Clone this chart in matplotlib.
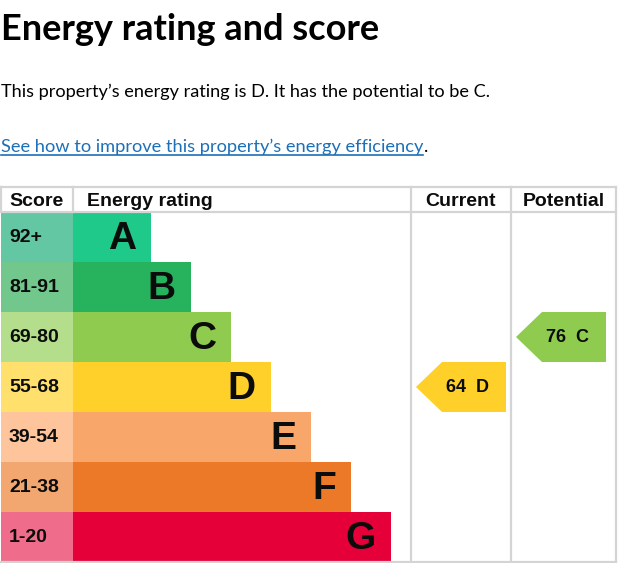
import matplotlib
matplotlib.use('Agg')
import matplotlib.pyplot as plt
from matplotlib.patches import Polygon

# ratings table data
bands = ['A', 'B', 'C', 'D', 'E', 'F', 'G']
score_ranges = ['92+', '81-91', '69-80', '55-68', '39-54', '21-38', '1-20']
band_lows = [92, 81, 69, 55, 39, 21, 1]
bar_colors = ['#1fc98a', '#27b35e', '#8fcb4f', '#ffcf2a', '#f9a66b', '#ec7928', '#e5003a']
score_colors = ['#63c7a3', '#72c78d', '#b5de8c', '#ffe06c', '#fec49c', '#f2a771', '#ef6d8a']
current_score = 64
potential_score = 76

title = 'Energy rating and score'
summary = 'This property\u2019s energy rating is D. It has the potential to be C.'
link_text = 'See how to improve this property\u2019s energy efficiency'

# layout in pixels (figure is 618x563 @ 100dpi)
W, H = 618, 563
top, head_bot, row_h = 187, 212, 50
col_score, col_cur, col_pot, right = 73, 411, 511, 616
grid = '#d4d4d4'
body_font = ['Lato', 'DejaVu Sans']
table_font = ['Liberation Sans', 'DejaVu Sans']


def band_of(score):
    for i, low in enumerate(band_lows):
        if score >= low:
            return i
    return len(bands) - 1


fig = plt.figure(figsize=(W / 100, H / 100), dpi=100)
ax = fig.add_axes([0, 0, 1, 1])
ax.set_xlim(0, W)
ax.set_ylim(H, 0)
ax.axis('off')

# heading and paragraphs
ax.text(1, 40, title, family=body_font, weight='bold', fontsize=26, va='baseline')
ax.text(1, 97, summary, family=body_font, fontsize=13.1, va='baseline')
lnk = ax.text(1, 152, link_text, family=body_font, fontsize=13.15, va='baseline', color='#1d70b8')
fig.canvas.draw()
bb = lnk.get_window_extent().transformed(ax.transData.inverted())
x_end = max(bb.x0, bb.x1)
ax.plot([1, x_end], [155, 155], color='#1d70b8', lw=1.2)
ax.text(x_end + 0.5, 152, '.', family=body_font, fontsize=13.15, va='baseline')

# band bars and score cells
centers = [head_bot + row_h * (i + 0.5) for i in range(len(bands))]
lengths = [78 + 40 * i for i in range(len(bands))]
ax.barh(centers, [col_score - 1] * len(bands), left=1, height=row_h, color=score_colors)
ax.barh(centers, lengths, left=col_score, height=row_h, color=bar_colors)
for i, b in enumerate(bands):
    ax.text(9, centers[i] + 1, score_ranges[i], family=table_font, weight='bold',
            fontsize=14, va='center', ha='left', color='#0b0c0c')
    ax.text(col_score + lengths[i] - 15, centers[i] + 2, b, family=table_font, weight='bold',
            fontsize=28, va='center', ha='right', color='#0b0c0c')

# grid lines
lw = 1.6
ax.plot([1, right], [top, top], color=grid, lw=lw)
ax.plot([1, right], [head_bot, head_bot], color=grid, lw=lw)
ax.plot([1, right], [H - 1, H - 1], color=grid, lw=lw)
ax.plot([1, 1], [top, head_bot], color=grid, lw=lw)
ax.plot([col_score, col_score], [top, head_bot], color=grid, lw=lw)
for x in (col_cur, col_pot, right):
    ax.plot([x, x], [top, H], color=grid, lw=lw)

# header
hdr = dict(family=table_font, weight='bold', fontsize=14, va='center', color='#0b0c0c')
ax.text(9, 201, 'Score', ha='left', **hdr)
ax.text(87, 201, 'Energy rating', ha='left', **hdr)
ax.text((col_cur + col_pot) / 2, 201, 'Current', ha='center', **hdr)
ax.text((col_pot + right) / 2, 201, 'Potential', ha='center', **hdr)


def arrow(col_left, score):
    i = band_of(score)
    y0, y1 = head_bot + row_h * i, head_bot + row_h * (i + 1)
    x_tip, x_body, x_end = col_left + 5, col_left + 31, col_left + 95
    pts = [(x_tip, (y0 + y1) / 2), (x_body, y0), (x_end, y0), (x_end, y1), (x_body, y1)]
    ax.add_patch(Polygon(pts, closed=True, color=bar_colors[i], lw=0))
    ax.text(x_body + 26, (y0 + y1) / 2 + 1, f'{score}  {bands[i]}',
            family=table_font, weight='bold', fontsize=13, va='center', ha='center',
            color='#0b0c0c')


arrow(col_cur, current_score)
arrow(col_pot, potential_score)

fig.savefig('out.png', dpi=100, facecolor='white')
